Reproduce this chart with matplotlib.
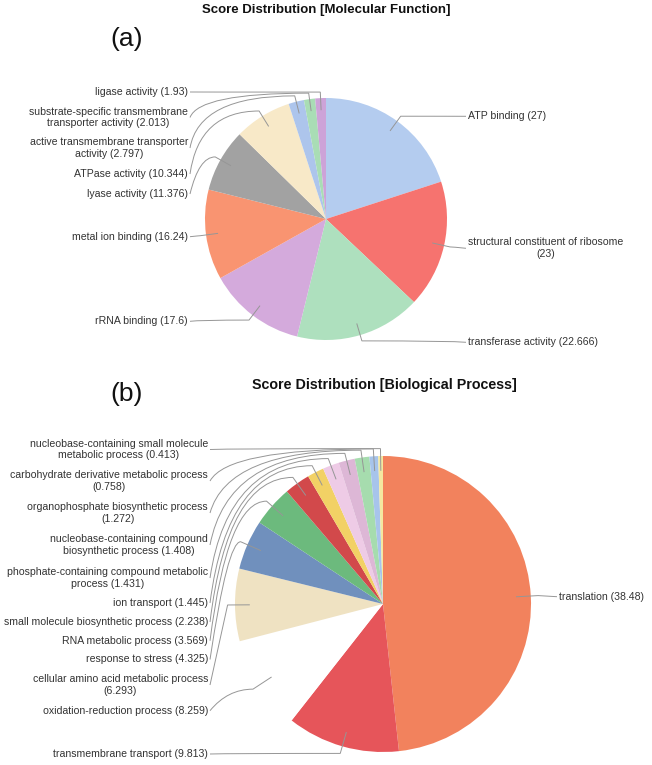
import matplotlib
matplotlib.use("Agg")
import matplotlib.pyplot as plt
import numpy as np
from matplotlib.path import Path
from matplotlib.patches import PathPatch

# ---------------- data ----------------
mf_names = ["ATP binding", "structural constituent of ribosome", "transferase activity",
            "rRNA binding", "metal ion binding", "lyase activity", "ATPase activity",
            "active transmembrane transporter activity",
            "substrate-specific transmembrane transporter activity", "ligase activity"]
mf_values = [27, 23, 22.666, 17.6, 16.24, 11.376, 10.344, 2.797, 2.013, 1.93]
mf_colors = ["#B4CCEF", "#F6736F", "#AEE0BE", "#D4AADC", "#F99471", "#A2A2A2",
             "#F8E9C8", "#ADC5EC", "#A9DDB5", "#CDA3D8"]

bp_names = ["translation", "transmembrane transport", "oxidation-reduction process",
            "cellular amino acid metabolic process", "response to stress",
            "RNA metabolic process", "small molecule biosynthetic process",
            "ion transport", "phosphate-containing compound metabolic process",
            "nucleobase-containing compound biosynthetic process",
            "organophosphate biosynthetic process",
            "carbohydrate derivative metabolic process",
            "nucleobase-containing small molecule metabolic process"]
bp_values = [38.48, 9.813, 8.259, 6.293, 4.325, 3.569, 2.238, 1.445, 1.431, 1.408,
             1.272, 0.758, 0.413]
bp_colors = ["#F2825D", "#E6555A", "#FFFFFF", "#EFE2C2", "#7090BD", "#6CBA7D",
             "#D2494B", "#F2D165", "#EECBE6", "#DDB7D6", "#A6DCAE", "#A7C4EB", "#F4E8A0"]

# ---------------- layout ----------------
W, H = 652, 765
LABEL_FONT = "Liberation Sans"
LABEL_SIZE = 7.6
LINK_COLOR = "#969696"

# label vertical centres (pixels from top) and line-break positions (words before break)
mf_label_y = [116.3, 248.3, 342.3, 321.3, 236.7, 194.0, 174.0, 148.0, 117.5, 92.0]
mf_wrap = [0, 4, 0, 0, 0, 0, 0, 3, 2, 0]
bp_label_y = [596.7, 754.0, 710.7, 685.0, 659.5, 640.8, 622.0, 603.0, 578.0, 545.0,
              513.0, 481.0, 449.5]
bp_wrap = [0, 0, 0, 5, 0, 0, 0, 0, 3, 2, 3, 4, 3]

fig = plt.figure(figsize=(W / 100, H / 100), dpi=100)
fig.patch.set_facecolor("white")

ov = fig.add_axes([0, 0, 1, 1])
ov.set_xlim(0, W)
ov.set_ylim(H, 0)
ov.axis("off")
ov.set_zorder(5)


def make_label(name, value, wrap):
    words = f"{name} ({value:g})".split(" ")
    if wrap:
        return " ".join(words[:wrap]) + "\n" + " ".join(words[wrap:])
    return " ".join(words)


def draw_pie(cx, cy, R, values, names, colors, label_y, wraps, left_x, right_x):
    ax = fig.add_axes([(cx - R) / W, 1 - (cy + R) / H, 2 * R / W, 2 * R / H])
    wedges, _ = ax.pie(values, colors=colors, startangle=90, counterclock=False,
                       radius=1.0, wedgeprops=dict(linewidth=0))
    ax.set_xlim(-1, 1)
    ax.set_ylim(-1, 1)
    ax.set_aspect("auto")
    ax.axis("off")
    for i, w in enumerate(wedges):
        th = np.deg2rad((w.theta1 + w.theta2) / 2.0)
        c, s = np.cos(th), np.sin(th)
        lx, ly = cx + 0.9 * R * c, cy - 0.9 * R * s
        ex, ey = cx + 1.05 * R * c, cy - 1.05 * R * s
        ty = label_y[i]
        txt = make_label(names[i], values[i], wraps[i])
        if c < 0:
            anchor_x = cx - 1.05 * R
            tx = left_x + 2
            ov.text(left_x, ty, txt, ha="right", va="center", multialignment="center",
                    fontsize=LABEL_SIZE, family=LABEL_FONT, color="#333333",
                    linespacing=1.22)
        else:
            anchor_x = cx + 1.05 * R
            tx = right_x - 2
            ov.text(right_x, ty, txt, ha="left", va="center", multialignment="center",
                    fontsize=LABEL_SIZE, family=LABEL_FONT, color="#333333",
                    linespacing=1.22)
        path = Path([(tx, ty), (anchor_x, ey), (ex, ey), (lx, ly)],
                    [Path.MOVETO, Path.CURVE3, Path.CURVE3, Path.LINETO])
        ov.add_patch(PathPatch(path, fill=False, edgecolor=LINK_COLOR, lw=0.7))


draw_pie(326, 219, 121, mf_values, mf_names, mf_colors, mf_label_y, mf_wrap, 188, 468)
draw_pie(383, 604, 148, bp_values, bp_names, bp_colors, bp_label_y, bp_wrap, 208, 559)

ov.text(326.5, 10, "Score Distribution [Molecular Function]", ha="center", va="center",
        fontsize=9.5, fontweight="bold", family=LABEL_FONT, color="#111111")
ov.text(384, 385, "Score Distribution [Biological Process]", ha="center", va="center",
        fontsize=10.3, fontweight="bold", family=LABEL_FONT, color="#111111")
ov.text(127, 39, "(a)", ha="center", va="center", fontsize=19, family=LABEL_FONT,
        color="#111111")
ov.text(127, 394, "(b)", ha="center", va="center", fontsize=19, family=LABEL_FONT,
        color="#111111")

fig.savefig("out.png", dpi=100, facecolor="white")
